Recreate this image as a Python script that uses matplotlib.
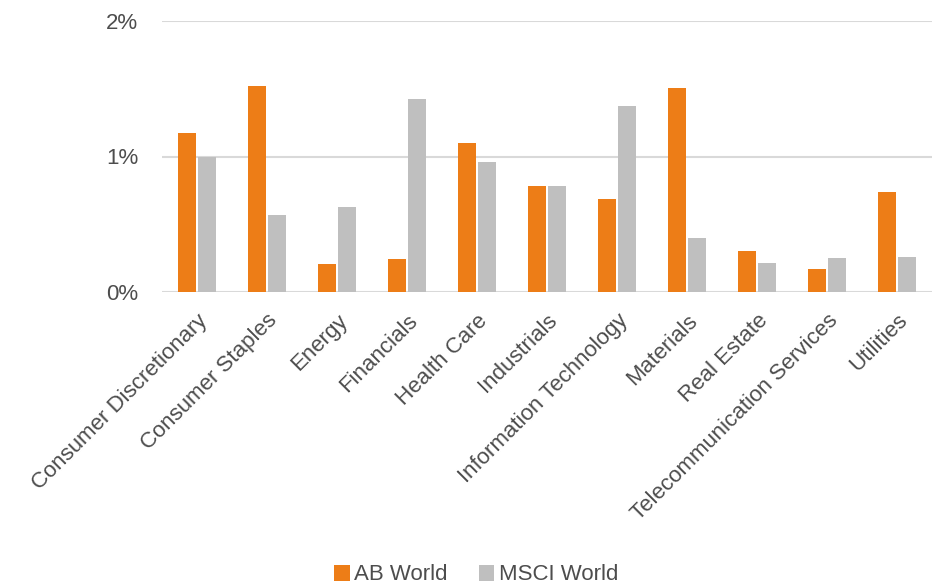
import matplotlib.pyplot as plt
import numpy as np

sectors = ["Consumer Discretionary", "Consumer Staples", "Energy", "Financials",
           "Health Care", "Industrials", "Information Technology", "Materials",
           "Real Estate", "Telecommunication Services", "Utilities"]
ab_world = [1.17, 1.52, 0.21, 0.24, 1.10, 0.78, 0.69, 1.505, 0.30, 0.17, 0.74]
msci_world = [1.00, 0.57, 0.63, 1.425, 0.96, 0.78, 1.37, 0.40, 0.215, 0.25, 0.26]

plt.rcParams["font.family"] = ["Liberation Sans", "DejaVu Sans"]

fig = plt.figure(figsize=(9.33, 5.86), dpi=100)
ax = fig.add_axes([162 / 933, 1 - 292 / 586, 770 / 933, 271 / 586])

x = np.arange(len(sectors))
w = 0.26
ax.bar(x - w / 2 - 0.01, ab_world, w, color="#ED7D17", label="AB World", zorder=3)
ax.bar(x + w / 2 + 0.01, msci_world, w, color="#BFBFBF", label="MSCI World", zorder=3)

ax.set_xlim(-0.5, len(sectors) - 0.5)
ax.set_ylim(0, 2)
ax.set_yticks([0, 1, 2])
ax.set_yticklabels(["0%", "1%", "2%"])
ax.yaxis.grid(True, color="#D9D9D9", linewidth=1.5, zorder=0)
for s in ax.spines.values():
    s.set_visible(False)
ax.tick_params(axis="both", length=0, labelsize=16, colors="#4d4d4d")
ax.tick_params(axis="y", pad=17)
ax.tick_params(axis="x", pad=13)

ax.set_xticks(x)
ax.set_xticklabels(sectors, rotation=45, ha="right", rotation_mode="anchor")

fig.legend(loc="center", bbox_to_anchor=(476 / 933, 1 - 575 / 586), ncol=2,
           frameon=False, fontsize=16, handlelength=0.7, handleheight=0.7,
           handletextpad=0.2, columnspacing=1.4, labelcolor="#4d4d4d")

fig.savefig("out.png", dpi=100)
